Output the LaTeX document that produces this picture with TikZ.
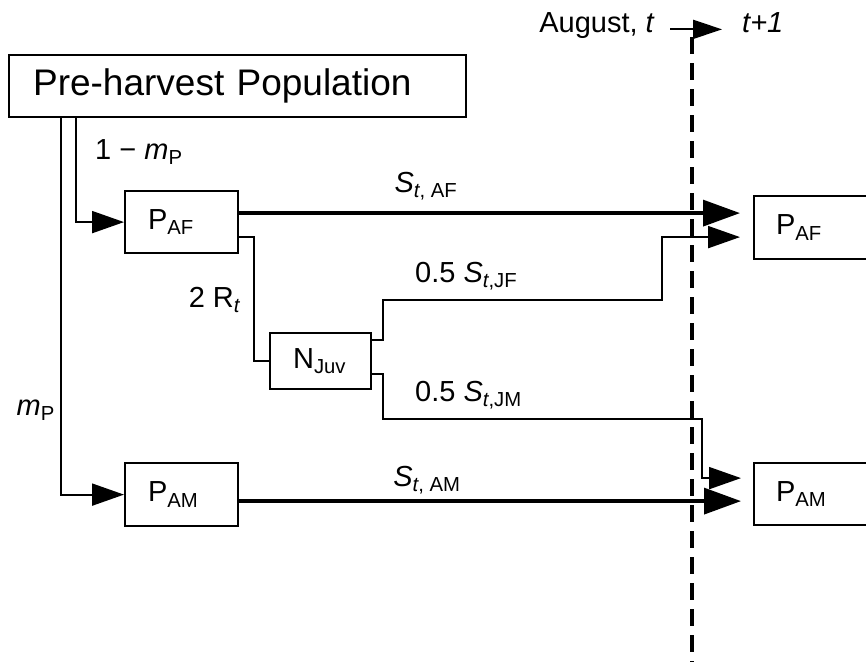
\documentclass[tikz,border=0pt]{standalone}
\usepackage{fontspec}
\setmainfont{Liberation Sans}
\usetikzlibrary{arrows.meta}
\begin{document}
\begin{tikzpicture}[x=1pt,y=-1pt,
  box/.style={draw,line width=2.2pt,inner ysep=0pt,inner xsep=23pt,align=left,font=\fontsize{29}{34}\selectfont},
  lbl/.style={inner sep=0pt,font=\fontsize{29}{34}\selectfont},
  thinline/.style={line width=2pt},
  thinarrow/.style={line width=2pt,-{Triangle[length=32pt,width=22pt]}},
  thickarrow/.style={line width=3.5pt,-{Triangle[length=37pt,width=26pt]}},
  dashline/.style={line width=3.5pt,dash pattern=on 17pt off 9pt},
]
\clip (0,0) rectangle (866,662);
% boxes
\node[box,anchor=north west,minimum height=62pt,text width=409pt,inner xsep=24pt,font=\fontsize{37}{44}\selectfont] (pre) at (8,54) {Pre-harvest Population};
\node[box,anchor=north west,minimum height=62pt,text width=67pt] (paf) at (124,190) {P\textsubscript{AF}};
\node[box,anchor=north west,minimum height=63pt,text width=67pt] (pam) at (124,462) {P\textsubscript{AM}};
\node[box,anchor=north west,minimum height=56pt,text width=55pt] (njuv) at (269,332) {N\textsubscript{Juv}};
\node[box,anchor=north west,minimum height=63pt,text width=116pt,inner xsep=22pt] (pafr) at (753,195) {P\textsubscript{AF}};
\node[box,anchor=north west,minimum height=62pt,text width=116pt,inner xsep=22pt] (pamr) at (753,462) {P\textsubscript{AM}};
% time marker
\draw[dashline] (692,37) -- (692,662);
\node[lbl,anchor=base east] (aug) at (655,32) {August, \textit{t}};
\node[lbl,anchor=base west] (tp1) at (742,32) {\textit{t+1}};
\draw[line width=2pt,-{Triangle[length=29pt,width=19pt]},shorten <=15pt,shorten >=20pt] (aug.mid east) -- (tp1.mid west);
% connectors
\coordinate (d1) at ([xshift=53pt]pre.south west);
\coordinate (d2) at ([xshift=68pt]pre.south west);
\draw[thinarrow] (d2) |- (paf.west);
\draw[thinarrow] (d1) |- (pam.west);
\coordinate (a1) at ([yshift=9pt]paf.east);
\draw[thickarrow,shorten >=13pt] (a1) -- (a1 -| pafr.west);
\coordinate (a2) at ([yshift=-15pt]paf.east);
\draw[thinline] (a2) -- ++(15,0) |- (njuv.west);
\coordinate (j1) at ([yshift=21pt]njuv.east);
\coordinate (jfk) at (662,300);
\coordinate (jfe) at ([yshift=-9.5pt]pafr.west);
\draw[thinarrow,shorten >=13pt] (j1) -- ++(11,0) |- (jfk) |- (jfe);
\coordinate (j2) at ([yshift=-13pt]njuv.east);
\coordinate (jmk) at (702,419);
\coordinate (jme) at ([yshift=16pt]pamr.west);
\draw[thinarrow,shorten >=12pt] (j2) -- ++(11,0) |- (jmk) |- (jme);
\coordinate (a3) at ([yshift=-6.5pt]pam.east);
\draw[thickarrow,shorten >=12pt] (a3) -- (a3 -| pamr.west);
% labels
\node[lbl,anchor=west] (l1) at (95,152) {1 − \textit{m}\textsubscript{P}};
\node[lbl,anchor=east] (l2) at (55,410) {\textit{m}\textsubscript{P}};
\node[lbl,anchor=east] (l3) at (241,300) {2 R\textsubscript{\textit{t}}};
\node[lbl] (l4) at (426,186) {\textit{S}\textsubscript{\textit{t}, AF}};
\node[lbl,anchor=west] (l5) at (415,276) {0.5 \textit{S}\textsubscript{\textit{t},JF}};
\node[lbl,anchor=west] (l6) at (415,395) {0.5 \textit{S}\textsubscript{\textit{t},JM}};
\node[lbl] (l7) at (427,480) {\textit{S}\textsubscript{\textit{t}, AM}};
\end{tikzpicture}
\end{document}
